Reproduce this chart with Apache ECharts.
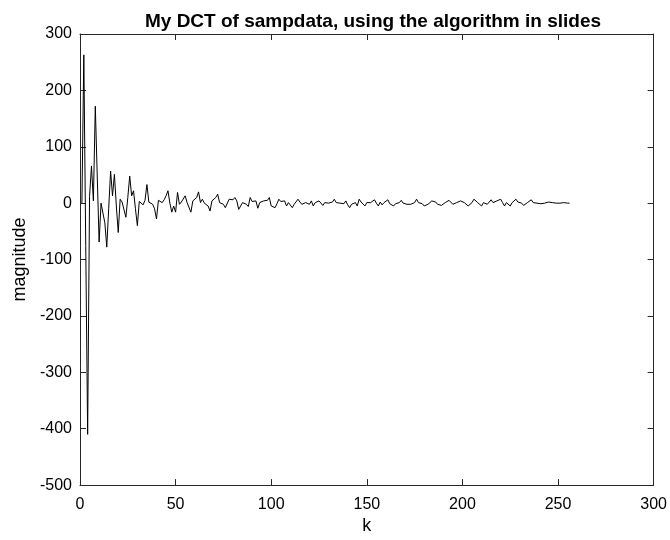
<!DOCTYPE html>
<html>
<head>
<meta charset="utf-8">
<script src="https://cdn.jsdelivr.net/npm/echarts@6/dist/echarts.min.js"></script>
<style>html,body{margin:0;padding:0;background:#fff;}#c{width:670px;height:540px;}</style>
</head>
<body>
<div id="c"></div>
<script>
var titleText = "My DCT of sampdata, using the algorithm in slides";
var xLabel = "k";
var yLabel = "magnitude";
var xMin = 0, xMax = 300, xStep = 50;
var yMin = -500, yMax = 300, yStep = 100;
// DCT coefficients, k = 1..256
var magnitude = [
  0, 263, -75, -410, 12, 66, 4, 172, 50, -69,
  0, 2, -35, -78, -10, 57, 13, 51, -5, -52,
  7, 2, 0, -25, 10, 48, 13, 22, -10, -40,
  3, 2, -3, 5, 33, 2, 0, -2, -10, -28,
  5, 7, 1, 6, 13, 22, 0, -16, -5, -16,
  19, -2, 2, 4, 13, 1, -2, -16, 4, 7,
  10, 20, 1, 7, 0, -2, -5, -14, 4, 7,
  10, 16, 1, 0, -2, -8, -11, 7, 4, 6,
  10, 4, -11, -5, 1, 0, -2, -6, 10, 3,
  1, 4, -9, 1, 3, 4, 1, 5, 10, -5,
  -2, -8, -1, 7, 3, 1, 4, -5, 1, 0,
  -8, -2, 1, 7, 2, -2, -5, 1, 0, -2,
  4, -5, 1, 2, 4, 7, -4, 1, 3, 0,
  -3, 2, 7, 1, -1, 0, 2, -1, 4, -3,
  -8, -2, -5, 1, -5, 7, 2, 4, -5, 1,
  -2, 1, 3, 6, 0, -5, 2, -3, 1, 3,
  6, -1, 0, -5, -1, -4, 1, 5, 0, 1,
  -2, -5, -2, -5, 1, 7, 1, 2, -1, -5,
  -8, -2, 1, 4, 7, 2, -2, -5, -4, -6,
  1, 4, 5, 2, -2, -5, 1, -2, 4, 6,
  1, -2, -5, -2, 1, 7, 8, 1, 1, -5,
  1, 4, -2, 2, 6, 1, -2, 4, 1, 7,
  1, -5, 1, -2, -5, 1, 4, 7, 2, 1,
  0, -4, -6, 1, 2, 6, 1, 1, 0, -2,
  -1, 1, 0, 1, 2, 1, 1, 1, 0, 0,
  0, 0, 1, 1, 0, 0
];

var axisColor = '#262626';
var font = 'Liberation Sans, Arial, Helvetica, sans-serif';
var chart = echarts.init(document.getElementById('c'), null, {renderer: 'canvas'});
var pts = magnitude.map(function (v, i) { return [i + 1, v]; });

function xa(pos, showLabel) {
  return {
    type: 'value', position: pos, min: xMin, max: xMax, interval: xStep,
    name: showLabel ? xLabel : '', nameLocation: 'middle', nameGap: 31,
    nameTextStyle: {color: '#000', fontSize: 18, fontFamily: font},
    axisLine: {show: true, onZero: false, lineStyle: {color: axisColor, width: 1}},
    axisTick: {show: true, inside: true, length: 6, lineStyle: {color: axisColor}},
    axisLabel: {show: showLabel, color: '#000', fontSize: 16, fontFamily: font, margin: 11},
    splitLine: {show: false}
  };
}
function ya(pos, showLabel) {
  return {
    type: 'value', position: pos, min: yMin, max: yMax, interval: yStep,
    name: showLabel ? yLabel : '', nameLocation: 'middle', nameGap: 47, nameRotate: 90,
    nameTextStyle: {color: '#000', fontSize: 18, fontFamily: font},
    axisLine: {show: true, onZero: false, lineStyle: {color: axisColor, width: 1}},
    axisTick: {show: true, inside: true, length: 6, lineStyle: {color: axisColor}},
    axisLabel: {show: showLabel, color: '#000', fontSize: 16, fontFamily: font, margin: 8},
    splitLine: {show: false}
  };
}

chart.setOption({
  animation: false,
  backgroundColor: '#fff',
  title: {
    text: titleText, left: 368, textAlign: 'center', top: 7,
    textStyle: {color: '#000', fontSize: 19, fontWeight: 'bold', fontFamily: font}
  },
  grid: {left: 80, right: 14, top: 34, bottom: 53, containLabel: false},
  xAxis: [xa('bottom', true), xa('top', false)],
  yAxis: [ya('left', true), ya('right', false)],
  series: [{
    type: 'line', data: pts, xAxisIndex: 0, yAxisIndex: 0,
    showSymbol: false, symbol: 'none',
    lineStyle: {color: '#000', width: 1}
  }]
});
</script>
</body>
</html>
